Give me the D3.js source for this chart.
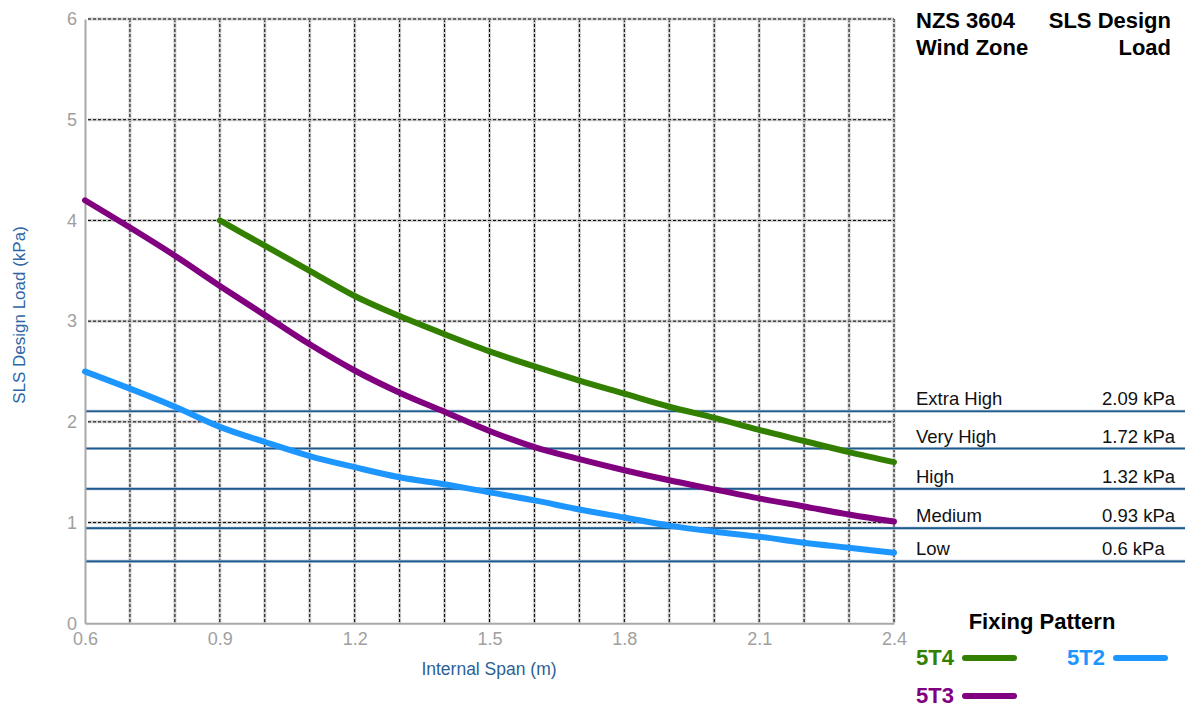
<!DOCTYPE html>
<html>
<head>
<meta charset="utf-8">
<script src="https://cdn.jsdelivr.net/npm/d3@7"></script>
<style>
  html, body { margin: 0; padding: 0; background: #fff; }
  svg { display: block; font-family: "Liberation Sans", Arial, Helvetica, sans-serif; }
</style>
</head>
<body>
<svg id="chart" width="1185" height="709"></svg>
<script>
// ---- data ----
const spans = [0.6, 0.7, 0.8, 0.9, 1.0, 1.1, 1.2, 1.3, 1.4, 1.5, 1.6, 1.7, 1.8, 1.9, 2.0, 2.1, 2.2, 2.3, 2.4];
const load5T4 = [null, null, null, 4.00, 3.75, 3.50, 3.25, 3.05, 2.87, 2.70, 2.55, 2.41, 2.28, 2.15, 2.04, 1.92, 1.81, 1.70, 1.60];
const load5T3 = [4.20, 3.93, 3.65, 3.35, 3.06, 2.77, 2.51, 2.29, 2.10, 1.91, 1.75, 1.63, 1.52, 1.42, 1.33, 1.24, 1.16, 1.08, 1.01];
const load5T2 = [2.50, 2.33, 2.15, 1.95, 1.80, 1.66, 1.55, 1.45, 1.38, 1.30, 1.22, 1.13, 1.05, 0.97, 0.91, 0.86, 0.80, 0.75, 0.70];
const seriesNames = ["5T4", "5T3", "5T2"];
const seriesColors = ["#338000", "#800080", "#1e96ff"];
const zoneNames = ["Extra High", "Very High", "High", "Medium", "Low"];
const zoneLoads = [2.09, 1.72, 1.32, 0.93, 0.6];
const xTicks = [0.6, 0.9, 1.2, 1.5, 1.8, 2.1, 2.4];
const yTicks = [0, 1, 2, 3, 4, 5, 6];
const xGrid = [0.7, 0.8, 0.9, 1.0, 1.1, 1.2, 1.3, 1.4, 1.5, 1.6, 1.7, 1.8, 1.9, 2.0, 2.1, 2.2, 2.3, 2.4];
const yGrid = [1, 2, 3, 4, 5, 6];

// ---- layout ----
const svg = d3.select("#chart");
const x = d3.scaleLinear().domain([0.6, 2.4]).range([85, 894]);
const y = d3.scaleLinear().domain([0, 6]).range([623.3, 19]);

// grid
const grid = svg.append("g");
function gridLine(sel) {
  sel.append("line").attr("stroke", "#cfcfcf").attr("stroke-width", 3);
  sel.append("line").attr("stroke", "#000").attr("stroke-width", 1).attr("stroke-dasharray", "3,2");
}
xGrid.forEach(v => {
  const g = grid.append("g");
  gridLine(g);
  g.selectAll("line").attr("x1", x(v)).attr("x2", x(v)).attr("y1", y(6)).attr("y2", y(0));
});
yGrid.forEach(v => {
  const g = grid.append("g");
  gridLine(g);
  g.selectAll("line").attr("x1", x(0.6) + 3).attr("x2", x(2.4)).attr("y1", y(v)).attr("y2", y(v));
});

// zone lines
const zones = svg.append("g").attr("transform", "translate(0,-1.5)");
zoneLoads.forEach((v, i) => {
  zones.append("line")
    .attr("x1", x(0.6)).attr("x2", 1185)
    .attr("y1", y(v)).attr("y2", y(v))
    .attr("stroke", "#a9bdd2").attr("stroke-width", 3);
  zones.append("line")
    .attr("x1", x(0.6)).attr("x2", 1185)
    .attr("y1", y(v)).attr("y2", y(v))
    .attr("stroke", "#1d5a8e").attr("stroke-width", 1.6);
  zones.append("text")
    .attr("x", 916).attr("y", y(v) - 6)
    .attr("font-size", 18.5).attr("fill", "#111")
    .text(zoneNames[i]);
  zones.append("text")
    .attr("x", 1102).attr("y", y(v) - 6)
    .attr("font-size", 18.5).attr("fill", "#111")
    .text(zoneLoads[i] + " kPa");
});

// axes
const yAxis = svg.append("g")
  .attr("transform", `translate(${x(0.6)},0)`)
  .call(d3.axisLeft(y).tickValues(yTicks).tickSize(0).tickPadding(8).tickFormat(d3.format("d")));
yAxis.select(".domain").attr("stroke", "#a8a8a8").attr("stroke-width", 2);
yAxis.selectAll("text").attr("font-size", 18).attr("fill", "#a0a0a0")
  .attr("font-family", "Liberation Sans, Arial, sans-serif");

const xAxis = svg.append("g")
  .attr("transform", `translate(0,${y(0)})`)
  .call(d3.axisBottom(x).tickValues(xTicks).tickSize(0).tickPadding(9).tickFormat(d3.format(".1f")));
xAxis.select(".domain").attr("stroke", "#a8a8a8").attr("stroke-width", 2);
xAxis.selectAll("text").attr("font-size", 18).attr("fill", "#a0a0a0")
  .attr("font-family", "Liberation Sans, Arial, sans-serif");

// axis titles
svg.append("text")
  .attr("transform", "translate(25,315) rotate(-90)")
  .attr("text-anchor", "middle")
  .attr("font-size", 17).attr("fill", "#2c66a6")
  .text("SLS Design Load (kPa)");
svg.append("text")
  .attr("x", 489).attr("y", 675)
  .attr("text-anchor", "middle")
  .attr("font-size", 17.5).attr("fill", "#2c5f96")
  .text("Internal Span (m)");

// curves
const allLoads = [load5T4, load5T3, load5T2];
const line = d3.line()
  .x(d => x(d[0])).y(d => y(d[1]))
  .curve(d3.curveMonotoneX);
allLoads.forEach((arr, i) => {
  const pts = spans.map((s, j) => [s, arr[j]]).filter(d => d[1] !== null);
  svg.append("path")
    .attr("d", line(pts))
    .attr("fill", "none")
    .attr("stroke", seriesColors[i])
    .attr("stroke-width", 6)
    .attr("stroke-linecap", "round")
    .attr("stroke-linejoin", "round");
});

// header
const hdr = svg.append("g").attr("font-size", 22).attr("font-weight", "bold").attr("fill", "#000");
hdr.append("text").attr("x", 916).attr("y", 28).text("NZS 3604");
hdr.append("text").attr("x", 916).attr("y", 55).text("Wind Zone");
hdr.append("text").attr("x", 1171).attr("y", 28).attr("text-anchor", "end").text("SLS Design");
hdr.append("text").attr("x", 1171).attr("y", 55).attr("text-anchor", "end").text("Load");

// legend
svg.append("text").attr("x", 1042).attr("y", 629).attr("text-anchor", "middle")
  .attr("font-size", 22).attr("font-weight", "bold").attr("fill", "#000")
  .text("Fixing Pattern");
const legendPos = [[916, 665], [916, 703], [1067, 665]];
seriesNames.forEach((name, i) => {
  const [lx, ly] = legendPos[i];
  svg.append("text").attr("x", lx).attr("y", ly)
    .attr("font-size", 22).attr("font-weight", "bold").attr("fill", seriesColors[i])
    .text(name);
  svg.append("line")
    .attr("x1", lx + 49).attr("x2", lx + 98)
    .attr("y1", ly - 7).attr("y2", ly - 7)
    .attr("stroke", seriesColors[i]).attr("stroke-width", 6)
    .attr("stroke-linecap", "round");
});
</script>
</body>
</html>
